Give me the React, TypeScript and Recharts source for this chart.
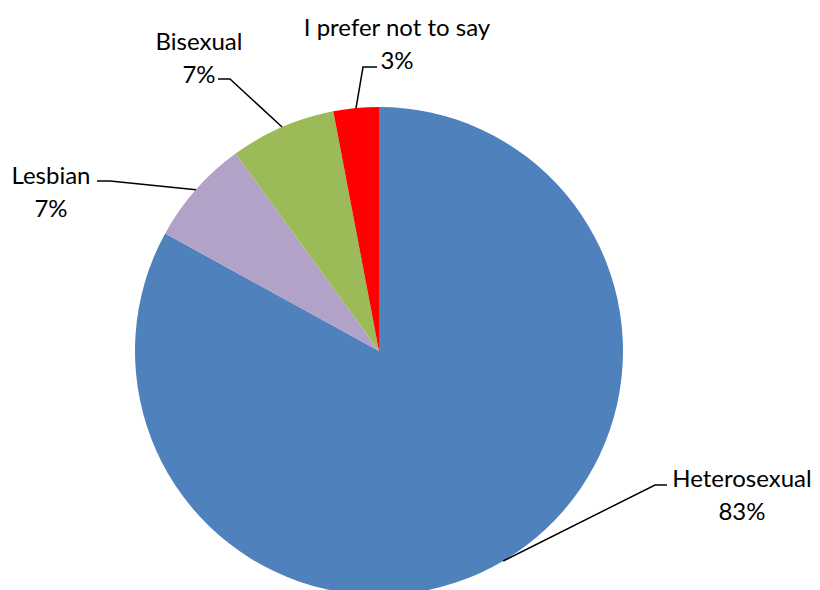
import React from "react";
import { PieChart, Pie, Cell } from "recharts";

const categories = ["Heterosexual", "Lesbian", "Bisexual", "I prefer not to say"];
const values = [83, 7, 7, 3];
const percentLabels = ["83%", "7%", "7%", "3%"];
const colors = ["#4F81BD", "#B3A2C7", "#9BBB59", "#FF0000"];

const data = categories.map((name, i) => ({ name, value: values[i] }));

// label layout offsets relative to pie center (elbow, line end, text center)
const layout = [
  { elbow: [276, 134], end: [288, 134], text: [363, 126] },
  { elbow: [-269, -170], end: [-282, -170], text: [-328, -177] },
  { elbow: [-149, -272], end: [-161, -272], text: [-180, -311] },
  { elbow: [-16, -284], end: [-2, -284], text: [18, -325] },
];

const RAD = Math.PI / 180;
const FONT = "Lato, 'Open Sans', sans-serif";
const FS = 24;
const LINE_GAP = 33;

const renderLabel = (props: any) => {
  const { cx, cy, outerRadius, midAngle, index } = props;
  const sx = cx + outerRadius * Math.cos(-midAngle * RAD);
  const sy = cy + outerRadius * Math.sin(-midAngle * RAD);
  const l = layout[index];
  return (
    <g key={`lbl-${index}`}>
      <polyline
        points={`${sx},${sy} ${cx + l.elbow[0]},${cy + l.elbow[1]} ${cx + l.end[0]},${cy + l.end[1]}`}
        fill="none"
        stroke="#000"
        strokeWidth={1.5}
      />
      <text
        x={cx + l.text[0]}
        y={cy + l.text[1]}
        textAnchor="middle"
        dominantBaseline="central"
        fontFamily={FONT}
        fontSize={FS}
        fill="#000"
      >
        {categories[index]}
      </text>
      <text
        x={cx + l.text[0]}
        y={cy + l.text[1] + LINE_GAP}
        textAnchor="middle"
        dominantBaseline="central"
        fontFamily={FONT}
        fontSize={FS}
        fill="#000"
      >
        {percentLabels[index]}
      </text>
    </g>
  );
};

export default function App() {
  return (
    <div style={{ position: "absolute", left: 0, top: 0, background: "#fff" }}>
      <PieChart width={820} height={590} margin={{ top: 0, right: 0, bottom: 0, left: 0 }}>
        <Pie
          data={data}
          dataKey="value"
          nameKey="name"
          cx={379}
          cy={351}
          outerRadius={244}
          startAngle={90}
          endAngle={-270}
          stroke="none"
          label={renderLabel}
          labelLine={false}
          isAnimationActive={false}
        >
          {data.map((d, i) => (
            <Cell key={d.name} fill={colors[i]} />
          ))}
        </Pie>
      </PieChart>
    </div>
  );
}
